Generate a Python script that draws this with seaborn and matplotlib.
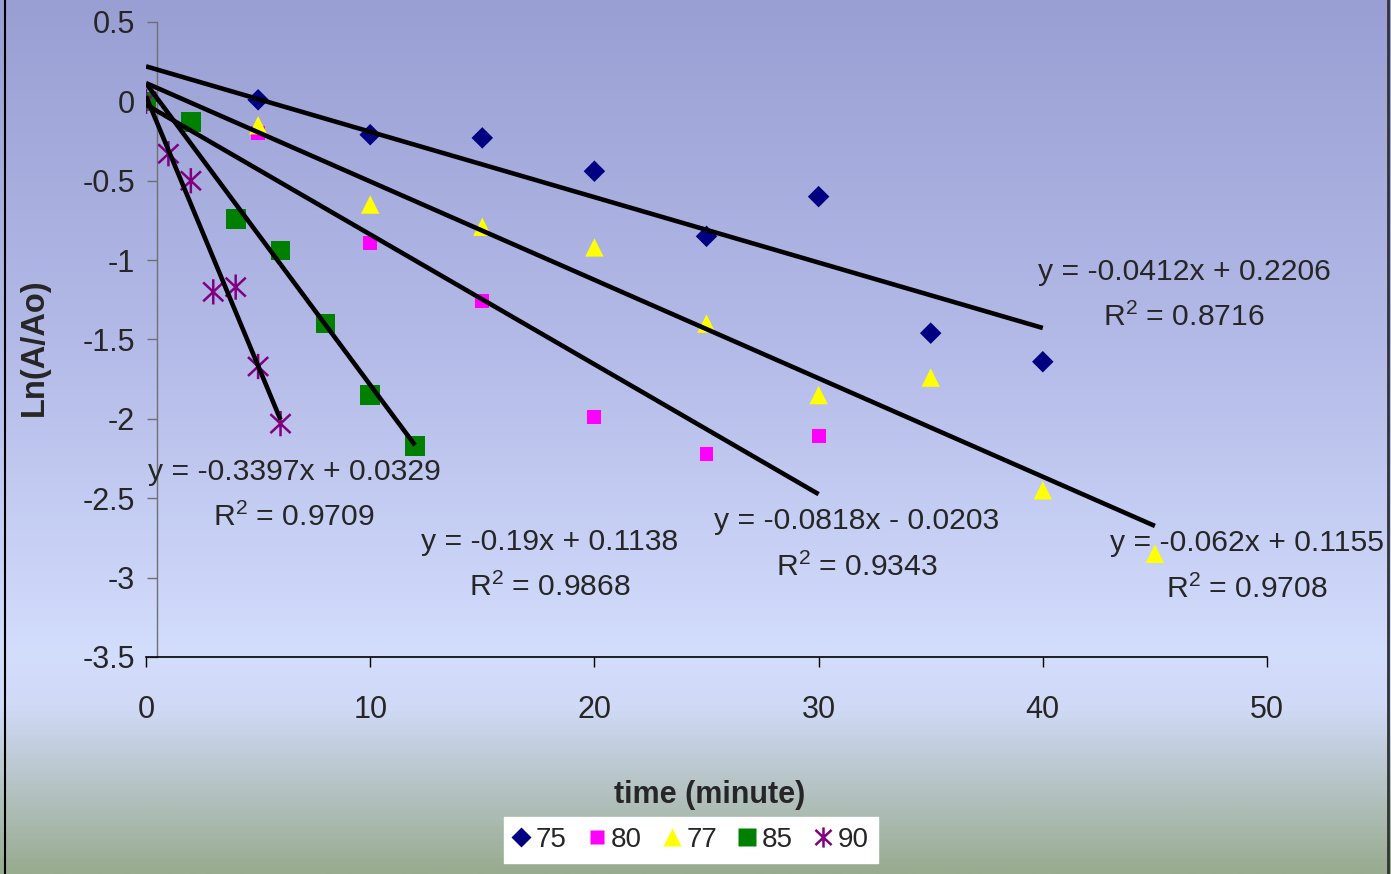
import numpy as np
import pandas as pd
import matplotlib
matplotlib.use("Agg")
import matplotlib.pyplot as plt
from matplotlib.colors import LinearSegmentedColormap
from matplotlib.lines import Line2D
from matplotlib.path import Path
from matplotlib.ticker import FuncFormatter, MultipleLocator
import seaborn as sns

# ---------------- data ----------------
series_names = ["75", "80", "77", "85", "90"]
time_75 = [0, 5, 10, 15, 20, 25, 30, 35, 40]
ln_75 = [0, 0.01, -0.21, -0.23, -0.44, -0.85, -0.60, -1.46, -1.64]
time_80 = [0, 5, 10, 15, 20, 25, 30]
ln_80 = [0, -0.20, -0.89, -1.26, -1.99, -2.22, -2.11]
time_77 = [0, 5, 10, 15, 20, 25, 30, 35, 40, 45]
ln_77 = [0, -0.15, -0.65, -0.79, -0.92, -1.40, -1.85, -1.74, -2.45, -2.85]
time_85 = [0, 2, 4, 6, 8, 10, 12]
ln_85 = [0, -0.13, -0.74, -0.94, -1.40, -1.85, -2.17]
time_90 = [0, 1, 2, 3, 4, 5, 6]
ln_90 = [0, -0.33, -0.50, -1.20, -1.17, -1.67, -2.03]

slopes = [-0.0412, -0.0818, -0.062, -0.19, -0.3397]
intercepts = [0.2206, -0.0203, 0.1155, 0.1138, 0.0329]
r2_values = [0.8716, 0.9343, 0.9708, 0.9868, 0.9709]
eq_labels = ["y = -0.0412x + 0.2206", "y = -0.0818x - 0.0203",
             "y = -0.062x + 0.1155", "y = -0.19x + 0.1138",
             "y = -0.3397x + 0.0329"]

x_ticks = [0, 10, 20, 30, 40, 50]
x_label = "time (minute)"
y_label = "Ln(A/Ao)"

times = [time_75, time_80, time_77, time_85, time_90]
values = [ln_75, ln_80, ln_77, ln_85, ln_90]

# ---------------- styles ----------------
asterisk = Path([(0, -1), (0, 1), (-0.8, -0.75), (0.8, 0.75), (-0.8, 0.75), (0.8, -0.75)],
                [Path.MOVETO, Path.LINETO, Path.MOVETO, Path.LINETO, Path.MOVETO, Path.LINETO])
colors = ["#000080", "#FF00FF", "#FFFF00", "#008000", "#800080"]
markers = ["D", "s", "^", "s", asterisk]
sizes = [120, 100, 175, 200, 330]
label_pos = [(46.3, -1.22), (31.7, -2.79), (49.1, -2.93), (18.0, -2.92), (6.6, -2.48)]

sns.set_theme(style="white")
plt.rcParams["font.family"] = ["Liberation Sans", "DejaVu Sans"]
plt.rcParams["axes.unicode_minus"] = False
plt.rcParams["mathtext.fontset"] = "custom"
plt.rcParams["mathtext.rm"] = "Liberation Sans"
plt.rcParams["mathtext.it"] = "Liberation Sans:italic"
plt.rcParams["mathtext.bf"] = "Liberation Sans:bold"

fig = plt.figure(figsize=(13.91, 8.74), dpi=100)

# background gradient
bg = fig.add_axes([0, 0, 1, 1], zorder=-10)
cmap = LinearSegmentedColormap.from_list(
    "bgc",
    [(0.0, "#999fd3"), (0.40, "#b4bbe8"), (0.75, "#d3ddfc"),
     (0.81, "#d0daf7"), (0.90, "#b6c4c6"), (1.0, "#98ac8f")])
grad = np.linspace(0, 1, 400).reshape(-1, 1)
bg.imshow(grad, aspect="auto", cmap=cmap, extent=[0, 1, 0, 1], origin="upper")
bg.axis("off")
fig.add_artist(Line2D([0.0037, 0.0037], [0, 1], color="black", lw=1.5))
fig.add_artist(Line2D([0.9975, 0.9975], [0, 1], color="#333333", lw=2))

ax = fig.add_axes([146 / 1391, 1 - 657 / 874, 1121 / 1391, 635 / 874])
ax.set_facecolor("none")

handles = []
for i, name in enumerate(series_names):
    c = colors[i]
    if i == 4:
        sns.scatterplot(x=times[i], y=values[i], marker=markers[i], s=sizes[i],
                        facecolor="none", edgecolor=c, linewidth=1.8, ax=ax,
                        zorder=3, legend=False)
        h = Line2D([], [], marker=markers[i], color=c, mfc="none", mec=c,
                   ls="none", ms=np.sqrt(sizes[i]) * 0.8, mew=1.8)
    else:
        sns.scatterplot(x=times[i], y=values[i], marker=markers[i], s=sizes[i],
                        color=c, edgecolor="none", ax=ax, zorder=3, legend=False)
        h = Line2D([], [], marker=markers[i], color=c, mec="none", ls="none",
                   ms=np.sqrt(sizes[i]) * 0.95)
    handles.append(h)

for i in range(5):
    xs = np.array([0, max(times[i])], dtype=float)
    ys = slopes[i] * xs + intercepts[i]
    sns.lineplot(x=xs, y=ys, color="black", lw=3.3, ax=ax, zorder=4,
                 legend=False, solid_capstyle="butt")

for i in range(5):
    ax.text(label_pos[i][0], label_pos[i][1],
            f"{eq_labels[i]}\nR$^2$ = {r2_values[i]:.4f}",
            ha="center", va="center", fontsize=21.7, linespacing=1.75,
            clip_on=False, zorder=5)

ax.set_xlim(0, 50)
ax.set_ylim(-3.5, 0.5)
ax.set_xticks(x_ticks)
ax.yaxis.set_major_locator(MultipleLocator(0.5))
ax.yaxis.set_major_formatter(FuncFormatter(lambda v, p: f"{v:g}"))

for s in ["top", "right"]:
    ax.spines[s].set_visible(False)
ax.spines["left"].set_position(("data", 0.49))
ax.spines["left"].set_color("#707070")
ax.spines["left"].set_linewidth(1.0)
ax.spines["bottom"].set_color("black")
ax.spines["bottom"].set_linewidth(1.2)

ax.tick_params(axis="y", direction="out", length=7, width=1, color="#707070",
               labelsize=22, pad=9, left=True)
ax.tick_params(axis="x", direction="out", length=7, width=1, color="black",
               labelsize=22, pad=20, bottom=True)
ax.grid(False)

fig.text(710 / 1391, 1 - 795 / 874, x_label, ha="center", va="center",
         fontsize=22, fontweight="bold")
fig.text(34 / 1391, 1 - 347 / 874, y_label, ha="center", va="center",
         fontsize=23.5, fontweight="bold", rotation=90)

leg = fig.legend(handles=handles, labels=series_names, loc="center",
                 bbox_to_anchor=(691 / 1391, 1 - 840 / 874), ncol=5,
                 fontsize=20, frameon=True, fancybox=False, framealpha=1,
                 edgecolor="white", facecolor="white", handlelength=0.55,
                 handletextpad=0.25, columnspacing=0.8, borderpad=0.35,
                 borderaxespad=0)

fig.savefig("out.png", dpi=100)
